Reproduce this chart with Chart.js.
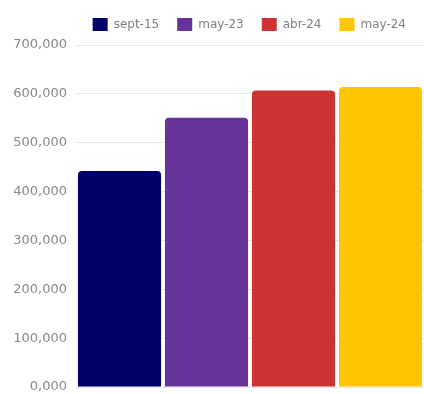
<!DOCTYPE html>
<html>
<head>
<meta charset="utf-8">
<script src="https://cdn.jsdelivr.net/npm/chart.js@4/dist/chart.umd.min.js"></script>
<style>
  html, body { margin: 0; padding: 0; background: #fff; overflow: hidden; }
  canvas { display: block; }
</style>
</head>
<body>
<canvas id="c" width="424" height="394"></canvas>
<script>
const categories = [''];
const seriesNames = ['sept-15', 'may-23', 'abr-24', 'may-24'];
const seriesValues = [442000, 551000, 607000, 614000];
const yTicks = [0, 100000, 200000, 300000, 400000, 500000, 600000, 700000];

const palette = ['#00006b', '#663399', '#cc3333', '#ffc500'];

const datasets = seriesNames.map((name, i) => ({
  label: name,
  data: [seriesValues[i]],
  backgroundColor: palette[i],
  borderRadius: { topLeft: 4, topRight: 4 },
  borderSkipped: 'bottom',
  barPercentage: 0.955,
  categoryPercentage: 1.0
}));

Chart.defaults.font.family = '"DejaVu Sans", sans-serif';
Chart.defaults.font.size = 12;
Chart.defaults.color = '#808080';

const legendSpacer = {
  id: 'legendSpacer',
  beforeInit(chart) {
    const origFit = chart.legend.fit;
    chart.legend.fit = function () {
      origFit.call(this);
      this.height += 4;
    };
  }
};

new Chart(document.getElementById('c'), {
  type: 'bar',
  data: { labels: categories, datasets },
  plugins: [legendSpacer],
  options: {
    responsive: false,
    animation: false,
    layout: { padding: { top: 0, right: 0, bottom: 7, left: 0 } },
    plugins: {
      legend: {
        position: 'top',
        align: 'end',
        labels: { boxWidth: 15, boxHeight: 13, padding: 18, color: '#808080' }
      },
      tooltip: { enabled: false }
    },
    scales: {
      x: {
        display: false
      },
      y: {
        min: 0,
        max: 700000,
        afterBuildTicks: (s) => { s.ticks = yTicks.map(v => ({ value: v })); },
        afterFit: (s) => {
          s.width = 76;
          s.paddingTop = 0;
          s.paddingBottom = 0;
        },
        grid: { color: '#e8e8e8', drawTicks: false },
        border: { display: false },
        ticks: {
          padding: 9,
          color: '#888',
          font: { size: 13 },
          callback: (v) => v === 0 ? '0,000' : Number(v).toLocaleString('en-US')
        }
      }
    }
  }
});
</script>
</body>
</html>
